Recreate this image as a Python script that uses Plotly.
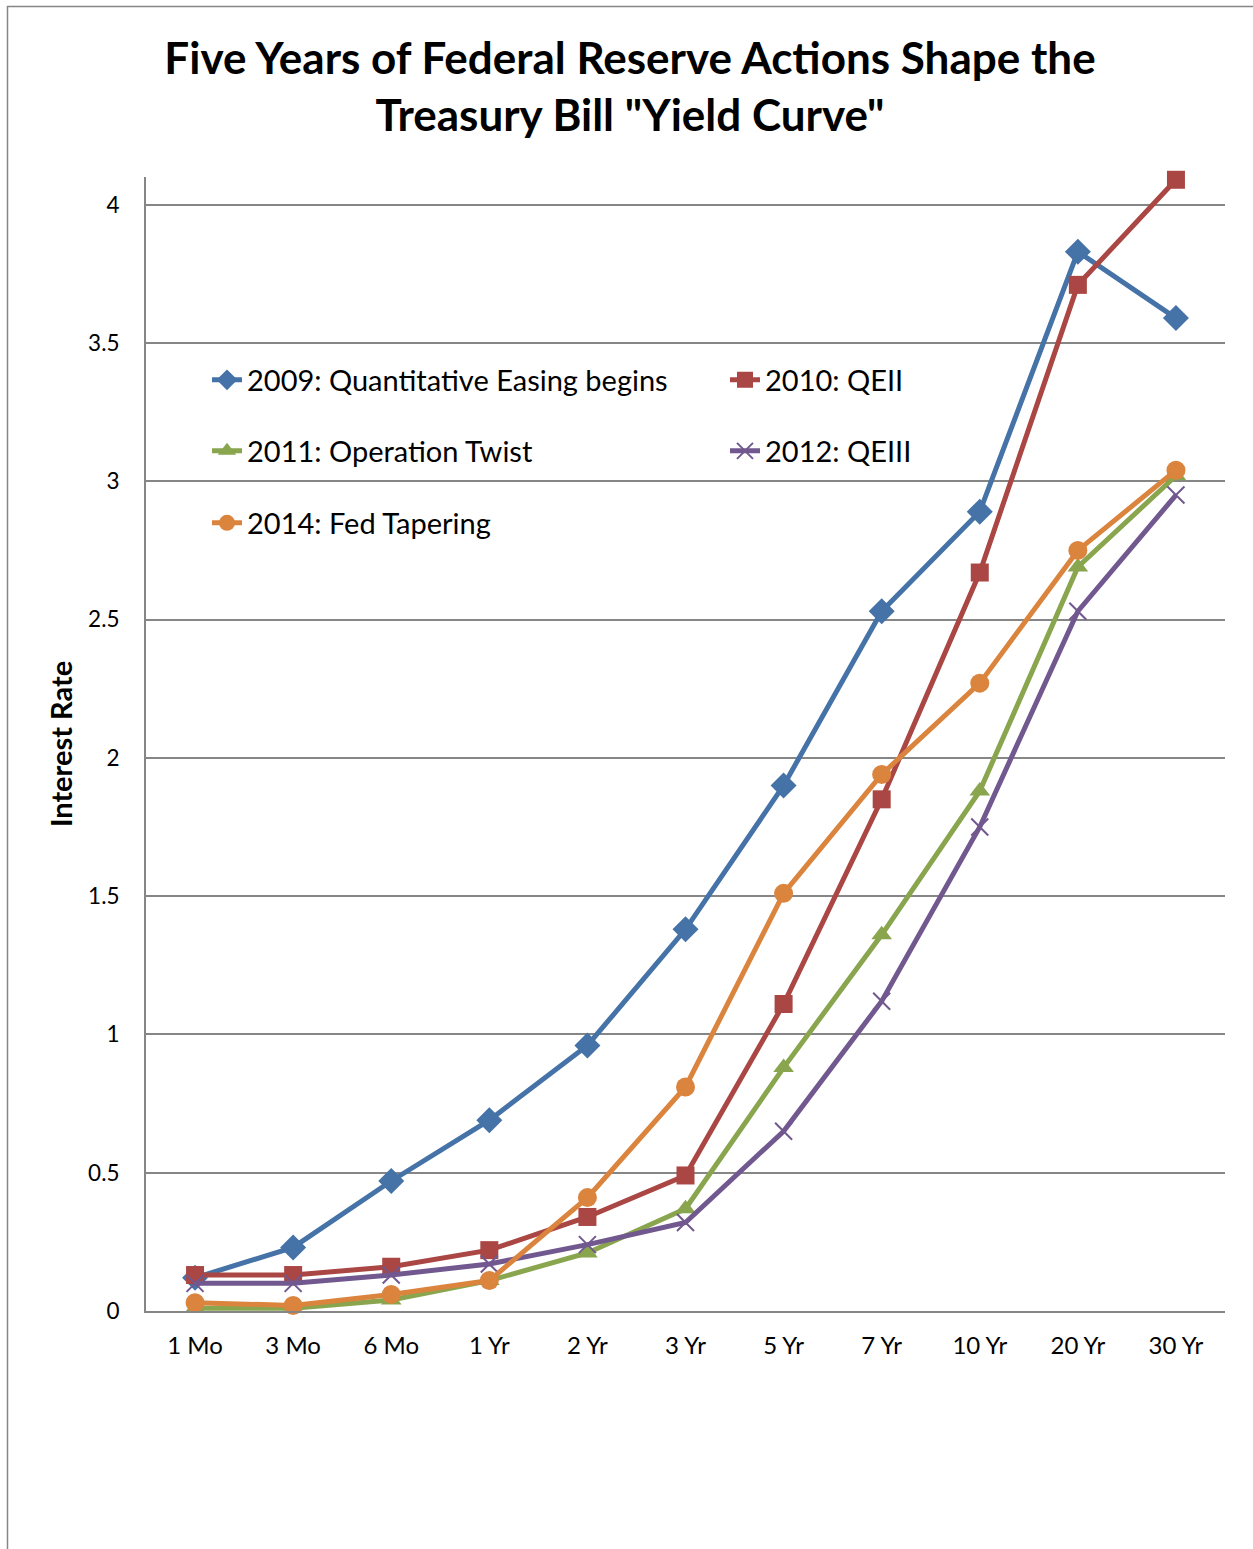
import plotly.graph_objects as go

maturities = ["1 Mo", "3 Mo", "6 Mo", "1 Yr", "2 Yr", "3 Yr", "5 Yr", "7 Yr", "10 Yr", "20 Yr", "30 Yr"]

qe_2009 = [0.12, 0.23, 0.47, 0.69, 0.96, 1.38, 1.90, 2.53, 2.89, 3.83, 3.59]
qe2_2010 = [0.13, 0.13, 0.16, 0.22, 0.34, 0.49, 1.11, 1.85, 2.67, 3.71, 4.09]
twist_2011 = [0.01, 0.01, 0.04, 0.11, 0.21, 0.37, 0.88, 1.36, 1.88, 2.69, 3.02]
qe3_2012 = [0.10, 0.10, 0.13, 0.17, 0.24, 0.32, 0.65, 1.12, 1.75, 2.53, 2.95]
taper_2014 = [0.03, 0.02, 0.06, 0.11, 0.41, 0.81, 1.51, 1.94, 2.27, 2.75, 3.04]

series = [
    ("2009: Quantitative Easing begins", qe_2009, "#4572A7", "diamond", 20),
    ("2010: QEII", qe2_2010, "#AA4643", "square", 18),
    ("2011: Operation Twist", twist_2011, "#89A54E", "triangle-up", 18),
    ("2012: QEIII", qe3_2012, "#71588F", "x-thin", 17),
    ("2014: Fed Tapering", taper_2014, "#DB843D", "circle", 19),
]

FONT = "Lato"
W, H = 1253, 1549
L, R, T, B = 146, 28, 177, 238
pw, ph = W - L - R, H - T - B


def px_x(x):
    return (x - L) / pw


def px_y(y):
    return (H - B - y) / ph


# legend box positions (left x, center y) in pixels, one legend per entry
legend_pos = [(207, 380), (725, 380), (207, 451), (725, 451), (207, 523)]
legend_ids = ["legend", "legend2", "legend3", "legend4", "legend5"]

fig = go.Figure()
for (name, vals, color, sym, size), lg in zip(series, legend_ids):
    marker = dict(symbol=sym, size=size, color=color)
    if sym == "x-thin":
        marker["line"] = dict(color=color, width=2)
    fig.add_trace(go.Scatter(
        x=maturities, y=vals, name=name, mode="lines+markers",
        line=dict(color=color, width=5),
        marker=marker, cliponaxis=False, legend=lg, showlegend=True,
    ))

leg_common = dict(orientation="h", xanchor="left", yanchor="middle",
                  font=dict(family=FONT, size=29, color="#000000"),
                  bgcolor="rgba(0,0,0,0)", visible=True)
legends = {}
for lg, (lx, ly) in zip(legend_ids, legend_pos):
    legends[lg] = dict(x=px_x(lx), y=px_y(ly), **leg_common)

fig.update_layout(
    width=W, height=H, showlegend=True,
    margin=dict(l=L, r=R, t=T, b=B),
    paper_bgcolor="white", plot_bgcolor="white",
    title=dict(
        text="Five Years of Federal Reserve Actions Shape the<br>Treasury Bill \"Yield Curve\"",
        x=px_x(630), xref="paper", xanchor="center", y=1 - 74 / H, yanchor="middle",
        font=dict(family=FONT, size=44, color="#000000", weight="bold"),
    ),
    xaxis=dict(
        type="category", range=[-0.5, 10.5],
        showline=True, linecolor="#868686", linewidth=2,
        showgrid=False, ticks="outside", ticklen=12, tickcolor="rgba(0,0,0,0)",
        tickfont=dict(family=FONT, size=24, color="#000000"),
    ),
    yaxis=dict(
        range=[0, 4.1], tickvals=[0, 0.5, 1, 1.5, 2, 2.5, 3, 3.5, 4],
        ticktext=["0", "0.5", "1", "1.5", "2", "2.5", "3", "3.5", "4"],
        showline=True, linecolor="#868686", linewidth=2,
        showgrid=True, gridcolor="#868686", gridwidth=1.5,
        zeroline=False, ticks="outside", ticklen=20, tickcolor="rgba(0,0,0,0)",
        tickfont=dict(family=FONT, size=22.5, color="#000000"),
        title=dict(text="Interest Rate", standoff=7,
                   font=dict(family=FONT, size=29, color="#000000", weight="bold")),
    ),
    shapes=[dict(type="rect", xref="paper", yref="paper",
                 x0=px_x(7.5), x1=px_x(1300), y0=px_y(1600), y1=px_y(6.5),
                 line=dict(color="#868686", width=1.5), fillcolor="rgba(0,0,0,0)",
                 layer="below")],
    **legends,
)

fig.write_html("out.html", config={"displayModeBar": False},
               post_script="document.body.style.margin='0';document.body.style.padding='0';")
